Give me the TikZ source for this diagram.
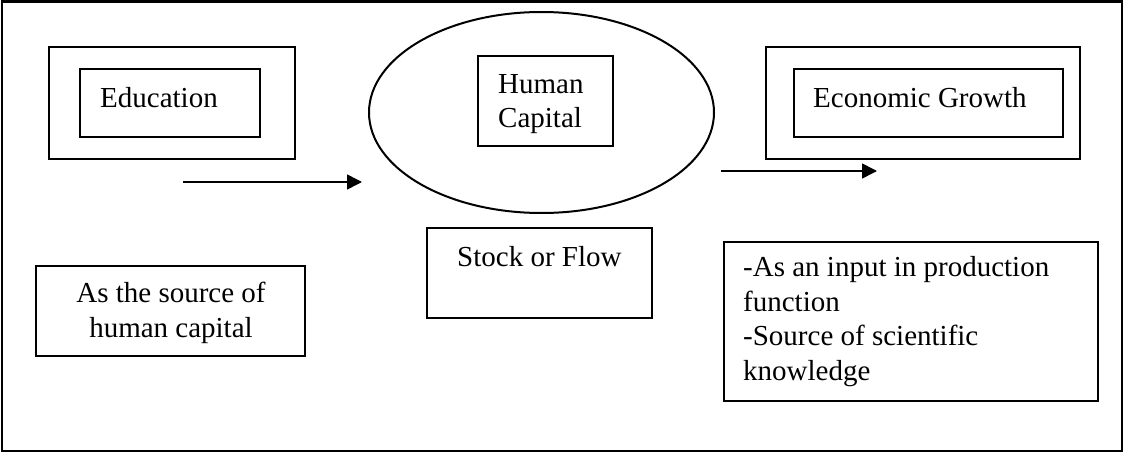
\documentclass[tikz,border=0pt]{standalone}
\usepackage{fontspec}
\setmainfont{Liberation Serif}
\usetikzlibrary{arrows.meta,shapes.geometric}
\tikzset{
  boxed/.style={draw, line width=2pt, inner sep=0pt},
  label text/.style={inner sep=0pt, anchor=base west, align=left,
    font=\fontsize{29}{34.5}\selectfont},
  flow/.style={line width=1.6pt, -{Triangle[length=15pt,width=15pt]}}
}
\newcommand{\slot}[5]{ \node[boxed, minimum width=#4pt, minimum height=#5pt]
  (#1) at (#2,#3) {}; }

\begin{document}
\begin{tikzpicture}[x=1pt,y=-1pt]
    \useasboundingbox (0,0) rectangle (1125,452);
    \draw[line width=2.2pt] (2,1.5) rectangle (1122,451);

    \slot{eduOuter}{172}{103}{246}{112}
    \slot{eduInner}{170}{103}{180}{68}
    \node[label text] (edu) at (100,107) {Education};

    \node[boxed, ellipse, minimum width=345pt, minimum height=201pt]
      (hcEllipse) at (541.5,112.5) {};
    \slot{hcBox}{545.5}{101}{135}{90}
    \node[label text] (hc) at (498,128) {Human\\Capital};

    \slot{egOuter}{923}{103}{314}{112}
    \slot{egInner}{928.5}{103}{269}{68}
    \node[label text] (eg) at (813,107) {Economic Growth};

    \slot{sourceBox}{170.5}{311}{269}{90}
    \node[label text, align=center, anchor=base] (source) at (171,337)
      {As the source of\\human capital};

    \slot{stockBox}{539.5}{273}{225}{90}
    \node[label text] (stock) at (457,266) {Stock or Flow};

    \slot{roleBox}{911}{321.5}{374}{159}
    \node[label text] (role) at (743,380)
      {-As an input in production\\function\\-Source of scientific\\knowledge};

    \coordinate (a1) at (183,182);
    \coordinate (a2) at (362,182);
    \coordinate (b1) at (721,171);
    \coordinate (b2) at (877,171);
    \draw[flow] (a1) -- (a2);
    \draw[flow] (b1) -- (b2);
\end{tikzpicture}
\end{document}
